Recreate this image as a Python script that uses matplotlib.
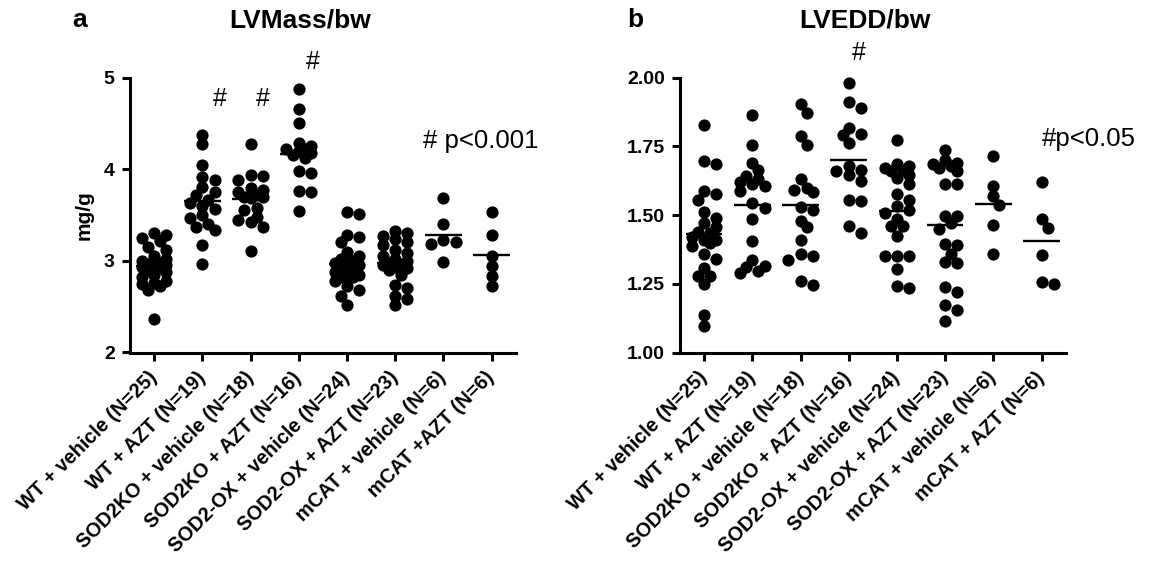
#!/usr/bin/env python3
# dot plots of LV mass and LVEDD per body weight (two panels)
# each dot is one animal, the short bar is the group mean
# output: out.png

import numpy as np
import matplotlib
matplotlib.use("Agg")
import matplotlib.pyplot as plt

plt.rcParams["font.family"] = ["Liberation Sans", "DejaVu Sans"]

W, H = 1161, 565  # output size in pixels

labels_a = ["WT + vehicle (N=25)", "WT + AZT (N=19)", "SOD2KO + vehicle (N=18)",
            "SOD2KO + AZT (N=16)", "SOD2-OX + vehicle (N=24)", "SOD2-OX + AZT (N=23)",
            "mCAT + vehicle (N=6)", "mCAT +AZT (N=6)"]
labels_b = ["WT + vehicle (N=25)", "WT + AZT (N=19)", "SOD2KO + vehicle (N=18)",
            "SOD2KO + AZT (N=16)", "SOD2-OX + vehicle (N=24)", "SOD2-OX + AZT (N=23)",
            "mCAT + vehicle (N=6)", "mCAT + AZT (N=6)"]

# panel a: LVMass/bw (mg/g)
mass_wt_veh = [3.30, 3.28, 3.25, 3.22, 3.15, 3.12, 3.05, 3.02, 3.00, 2.98, 2.96, 2.95, 2.94,
               2.93, 2.92, 2.90, 2.88, 2.85, 2.82, 2.78, 2.76, 2.75, 2.72, 2.68, 2.37]
mass_wt_azt = [4.37, 4.27, 4.04, 3.91, 3.88, 3.81, 3.75, 3.72, 3.66, 3.63, 3.60, 3.57, 3.50,
               3.47, 3.40, 3.37, 3.34, 3.17, 2.97]
mass_ko_veh = [4.27, 3.94, 3.92, 3.88, 3.80, 3.77, 3.75, 3.72, 3.70, 3.70, 3.68, 3.55, 3.58,
               3.45, 3.48, 3.42, 3.37, 3.11]
mass_ko_azt = [4.87, 4.66, 4.50, 4.28, 4.25, 4.22, 4.22, 4.20, 4.18, 4.15, 4.12, 3.98, 3.96,
               3.76, 3.75, 3.54]
mass_ox_veh = [3.53, 3.51, 3.28, 3.26, 3.20, 3.10, 3.05, 3.02, 3.00, 2.98, 2.96, 2.95, 2.93,
               2.90, 2.88, 2.85, 2.82, 2.85, 2.82, 2.78, 2.72, 2.68, 2.62, 2.52]
mass_ox_azt = [3.33, 3.30, 3.27, 3.24, 3.20, 3.17, 3.12, 3.08, 3.05, 3.02, 3.00, 2.98, 2.96,
               2.93, 2.90, 2.95, 2.92, 2.85, 2.74, 2.70, 2.62, 2.58, 2.52]
mass_cat_veh = [3.68, 3.40, 3.23, 3.20, 3.18, 2.99]
mass_cat_azt = [3.53, 3.28, 3.05, 2.94, 2.83, 2.72]

# panel b: LVEDD/bw
edd_wt_veh = [1.829, 1.698, 1.684, 1.587, 1.577, 1.556, 1.51, 1.49, 1.455, 1.436, 1.41, 1.41,
              1.387, 1.36, 1.34, 1.309, 1.278, 1.278, 1.25, 1.138, 1.096, 1.47, 1.44, 1.42, 1.40]
edd_wt_azt = [1.862, 1.756, 1.69, 1.665, 1.641, 1.63, 1.62, 1.611, 1.605, 1.587, 1.544, 1.526,
              1.484, 1.405, 1.338, 1.314, 1.31, 1.296, 1.29]
edd_ko_veh = [1.902, 1.872, 1.789, 1.756, 1.63, 1.60, 1.59, 1.585, 1.53, 1.52, 1.48, 1.455,
              1.41, 1.36, 1.35, 1.338, 1.26, 1.245]
edd_ko_azt = [1.981, 1.91, 1.89, 1.817, 1.793, 1.79, 1.762, 1.678, 1.665, 1.647, 1.625, 1.556,
              1.55, 1.459, 1.435, 1.66]
edd_ox_veh = [1.771, 1.684, 1.678, 1.665, 1.647, 1.635, 1.611, 1.575, 1.556, 1.532, 1.52, 1.508,
              1.484, 1.459, 1.459, 1.423, 1.35, 1.35, 1.35, 1.304, 1.241, 1.235, 1.66, 1.67]
edd_ox_azt = [1.738, 1.70, 1.69, 1.685, 1.68, 1.67, 1.66, 1.613, 1.613, 1.498, 1.498, 1.47,
              1.45, 1.393, 1.39, 1.36, 1.33, 1.325, 1.239, 1.22, 1.171, 1.156, 1.114]
edd_cat_veh = [1.714, 1.605, 1.568, 1.535, 1.463, 1.359]
edd_cat_azt = [1.621, 1.486, 1.453, 1.356, 1.25, 1.258]

DOT_MS = 8.8  # marker size in points


def fig_xy(x, y):
    # pixel position -> figure fraction
    return x / W, 1 - y / H


def swarm_offsets(ax, xc, vals):
    # compact beeswarm: slots at 0, +-d/2, +-d; dots may overlap a little
    diam = DOT_MS * 100 / 72
    mind = 0.75 * diam
    cands = [0.0, 0.5 * diam, -0.5 * diam, diam, -diam]
    pts = ax.transData.transform(np.column_stack([np.full(len(vals), xc), vals]))
    ys = pts[:, 1]
    unit = ax.transData.transform((xc + 1, 0))[0] - ax.transData.transform((xc, 0))[0]
    placed = []
    offs = np.zeros(len(vals))
    for idx in np.argsort(vals)[::-1]:
        y = ys[idx]
        best, best_gap = None, -1.0
        for c in cands:
            gap = min([np.hypot(c - px_, y - py_) for px_, py_ in placed] or [1e9])
            if gap >= mind:
                best = c
                break
            if gap > best_gap:
                best, best_gap = c, gap
        placed.append((best, y))
        offs[idx] = best / unit
    return offs


def draw_panel(ax, groups, ylim, yticks, yticklabels, xlabels):
    ax.set_xlim(-0.5, 7.5)
    ax.set_ylim(*ylim)
    for i, vals in enumerate(groups):
        vals = np.asarray(vals)
        offs = swarm_offsets(ax, i, vals)
        ax.plot(i + offs, vals, "o", ms=DOT_MS, color="black", mew=0, clip_on=False, zorder=3)
        ax.hlines(vals.mean(), i - 0.38, i + 0.38, color="black", lw=1.7, zorder=4)

    for s in ("top", "right"):
        ax.spines[s].set_visible(False)
    for s in ("left", "bottom"):
        ax.spines[s].set_linewidth(2.2)
    ax.tick_params(axis="both", direction="out", length=6, width=2.2, pad=5)
    ax.set_yticks(yticks)
    ax.set_yticklabels(yticklabels, fontsize=14, fontweight="bold")
    ax.set_xticks(range(len(xlabels)))
    ax.set_xticklabels(xlabels, rotation=45, ha="right", va="center",
                       rotation_mode="anchor", fontsize=14.3, fontweight="bold")
    ax.tick_params(axis="x", pad=10)


def main() -> None:
    fig = plt.figure(figsize=(W / 100, H / 100), dpi=100)

    # axes boxes: left edge and bottom edge from the pixel layout
    ax_a = fig.add_axes([130 / W, 1 - 352.5 / H, 385.6 / W, 275 / H])
    ax_b = fig.add_axes([680 / W, 1 - 352.5 / H, 385.6 / W, 275 / H])

    draw_panel(ax_a, [mass_wt_veh, mass_wt_azt, mass_ko_veh, mass_ko_azt,
                      mass_ox_veh, mass_ox_azt, mass_cat_veh, mass_cat_azt],
               (2, 5), [2, 3, 4, 5], ["2", "3", "4", "5"], labels_a)
    draw_panel(ax_b, [edd_wt_veh, edd_wt_azt, edd_ko_veh, edd_ko_azt,
                      edd_ox_veh, edd_ox_azt, edd_cat_veh, edd_cat_azt],
               (1.0, 2.0), [1.0, 1.25, 1.5, 1.75, 2.0],
               ["1.00", "1.25", "1.50", "1.75", "2.00"], labels_b)

    ax_a.set_ylabel("mg/g", fontsize=15, fontweight="bold")
    ax_a.yaxis.set_label_coords(-0.095, 0.5)

    # panel letters and titles
    fig.text(*fig_xy(80, 20), "a", fontsize=19, fontweight="bold", ha="center", va="center")
    fig.text(*fig_xy(635, 20), "b", fontsize=19, fontweight="bold", ha="center", va="center")
    fig.text(*fig_xy(300, 20), "LVMass/bw", fontsize=19, fontweight="bold", ha="center", va="center")
    fig.text(*fig_xy(865, 20), "LVEDD/bw", fontsize=19, fontweight="bold", ha="center", va="center")

    # significance marks
    for x, y in [(1.37, 4.77), (2.26, 4.77), (3.3, 5.17)]:
        ax_a.text(x, y, "#", fontsize=18, ha="center", va="center", clip_on=False)
    ax_a.text(5.58, 4.31, "# p<0.001", fontsize=18.5, ha="left", va="center", clip_on=False)
    ax_b.text(3.2, 2.09, "#", fontsize=18, ha="center", va="center", clip_on=False)
    ax_b.text(7.0, 1.775, "#p<0.05", fontsize=18.5, ha="left", va="center", clip_on=False)

    fig.savefig("out.png", dpi=100)


if __name__ == "__main__":
    main()
